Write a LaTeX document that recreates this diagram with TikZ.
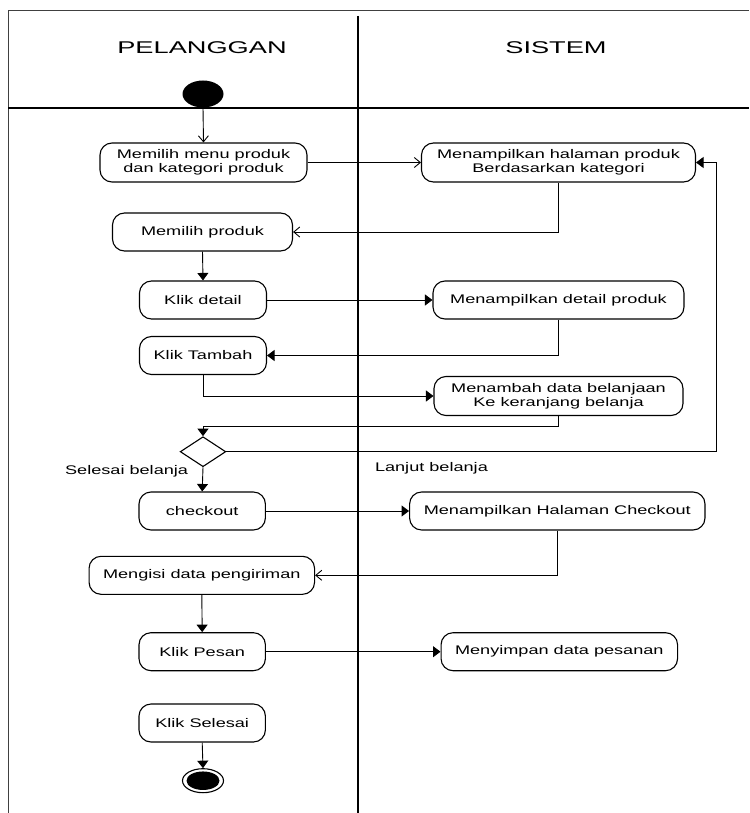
\documentclass[tikz,border=0pt]{standalone}
\usepackage{fontspec}
\setmainfont{Liberation Sans}[FakeStretch=1.45]
\newfontfamily\headfont{Liberation Sans}[FakeStretch=1.6]
\usetikzlibrary{shapes.geometric,arrows.meta,calc}

\tikzset{
  actbox/.style={draw, line width=1.1pt, rounded corners=12pt, align=center,
    inner sep=0pt, minimum height=38pt,
    font=\fontsize{12.5}{14}\selectfont},
  lbl/.style={inner sep=0pt, font=\fontsize{12.5}{14}\selectfont},
  head/.style={inner sep=0pt, font=\headfont\fontsize{17}{20}\selectfont},
  flow/.style={line width=0.9pt, -{Triangle[length=7.5pt,width=11pt]}},
  openflow/.style={line width=0.9pt, -{Straight Barb[length=6pt,width=10pt,line width=0.9pt]}},
  lane/.style={line width=1.8pt},
}

\begin{document}
\begin{tikzpicture}[x=1pt,y=-1pt]
\useasboundingbox (0,0) rectangle (749,813);

% swimlane frame
\coordinate (tl) at (8,10);
\coordinate (tr) at (749,10);
\coordinate (bl) at (8,813);
\coordinate (hl) at (8,108);
\coordinate (hr) at (749,108);
\coordinate (dt) at (358,16);
\coordinate (db) at (358,813);
\draw[line width=0.9pt, black!75] (bl) -- (tl) -- (tr);
\draw[lane] (hl) -- (hr);
\draw[lane] (dt) -- (db);

\node[head] (hpel) at (202,47.5) {PELANGGAN};
\node[head] (hsis) at (556,47.5) {SISTEM};

% start
\node[ellipse, fill=black, inner sep=0pt, minimum width=41pt, minimum height=27pt] (start) at (203,94) {};

% activities
\node[actbox, minimum width=207pt, minimum height=39pt] (b1) at (203.5,162.5) {Memilih menu produk\\dan kategori produk};
\node[actbox, minimum width=274pt, minimum height=39pt] (b2) at (558.5,162.5) {Menampilkan halaman produk\\Berdasarkan kategori};
\node[actbox, minimum width=180pt] (b3) at (202.5,232) {Memilih produk};
\node[actbox, minimum width=127pt] (b4) at (203,300) {Klik detail};
\node[actbox, minimum width=251pt] (b5) at (558.5,300) {Menampilkan detail produk};
\node[actbox, minimum width=127pt] (b6) at (203,355.5) {Klik Tambah};
\node[actbox, minimum width=249pt, minimum height=39pt] (b7) at (558.5,396) {Menambah data belanjaan\\Ke keranjang belanja};

\node[diamond, draw, line width=1.1pt, inner sep=0pt, minimum width=45.6pt, minimum height=30pt] (dia) at (203,451.7) {};
\node[lbl] (lsel) at (126.6,471.7) {Selesai belanja};
\node[lbl, anchor=west] (llan) at (374.8,468.3) {Lanjut belanja};

\node[actbox, minimum width=126.4pt] (b8) at (202.2,511) {checkout};
\node[actbox, minimum width=295.4pt] (b9) at (557.3,511) {Menampilkan Halaman Checkout};
\node[actbox, minimum width=225.5pt] (b10) at (201.8,575.3) {Mengisi data pengiriman};
\node[actbox, minimum width=126.4pt] (b11) at (202.2,651.7) {Klik Pesan};
\node[actbox, minimum width=236.5pt] (b12) at (559.3,651.7) {Menyimpan data pesanan};
\node[actbox, minimum width=126.4pt] (b13) at (202.2,723) {Klik Selesai};

% end
\node[ellipse, draw, line width=1.1pt, inner sep=0pt, minimum width=41pt, minimum height=24pt] (end) at (203,780.7) {};
\node[ellipse, fill=black, inner sep=0pt, minimum width=33pt, minimum height=18.5pt] (endin) at (end.center) {};

% connectors
\draw[openflow] (start.south) -- (b1.north);
\draw[openflow] (b1.east) -- (b2.west);
\draw[openflow] (b2.south) |- (b3.east);
\draw[flow] (b3.south) -- (b4.north);
\draw[flow] (b4.east) -- (b5.west);
\draw[flow] (b5.south) |- (b6.east);
\draw[flow] (b6.south) |- (b7.west);
\draw[flow] (b7.south) -- ++(0,10.8) -| (dia.north);
\draw[flow] (dia.east) -| ($(b2.east)+(20.5,0)$) -- (b2.east);
\draw[flow] (dia.south) -- (b8.north);
\draw[flow] (b8.east) -- (b9.west);
\draw[openflow] (b9.south) |- (b10.east);
\draw[flow] (b10.south) -- (b11.north);
\draw[flow] (b11.east) -- (b12.west);
\draw[flow] (b13.south) -- (end.north);
\end{tikzpicture}
\end{document}
